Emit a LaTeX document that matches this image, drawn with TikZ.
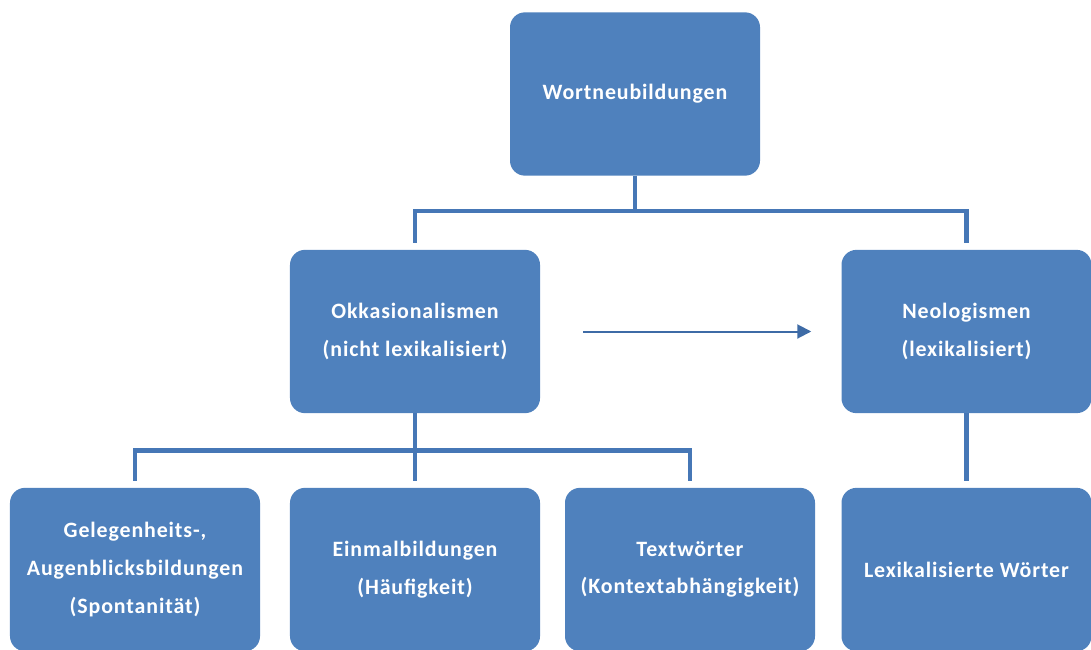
\documentclass[tikz,border=0pt]{standalone}
\usepackage{fontspec}
\setmainfont{Carlito}[LetterSpace=4]
\usetikzlibrary{arrows.meta}
\definecolor{boxblue}{HTML}{4F81BD}
\definecolor{lineblue}{HTML}{4677B6}
\definecolor{arrowblue}{HTML}{3E6BA6}
\begin{document}
\begin{tikzpicture}[x=0.03cm,y=0.03cm,
  box/.style={fill=boxblue,rounded corners=0.45cm,minimum width=7.5cm,minimum height=4.9cm,
    text=white,align=center,font=\bfseries\fontsize{18.7pt}{32.3pt}\selectfont},
  conn/.style={draw=lineblue,line width=0.14cm,shorten >=0.2cm},
  arr/.style={draw=arrowblue,line width=0.06cm,-{Triangle[length=0.42cm,width=0.42cm]}}]
\useasboundingbox (0,0) rectangle (1091,-650);
\node[box] (wort) at (635,-94) {Wortneubildungen};
\node[box] (okk) at (415,-331.5) {Okkasionalismen\\(nicht lexikalisiert)};
\node[box] (neo) at (966.5,-331.5) {Neologismen\\(lexikalisiert)};
\node[box] (gel) at (135,-569.5) {Gelegenheits-,\\Augenblicksbildungen\\(Spontanität)};
\node[box] (ein) at (415,-569.5) {Einmalbildungen\\(Häufigkeit)};
\node[box] (txt) at (690,-569.5) {Textwörter\\(Kontextabhängigkeit)};
\node[box] (lex) at (966.5,-569.5) {Lexikalisierte Wörter};
\draw[conn] (wort.south) -- ++(0,-35) -| (okk.north);
\draw[conn] (wort.south) -- ++(0,-35) -| (neo.north);
\draw[conn] (okk.south) -- ++(0,-37) -| (gel.north);
\draw[conn] (okk.south) -- (ein.north);
\draw[conn] (okk.south) -- ++(0,-37) -| (txt.north);
\draw[conn] (neo.south) -- (lex.north);
\draw[arr,shorten <=1.29cm,shorten >=0.9cm] (okk.east) -- (neo.west);
\end{tikzpicture}
\end{document}
